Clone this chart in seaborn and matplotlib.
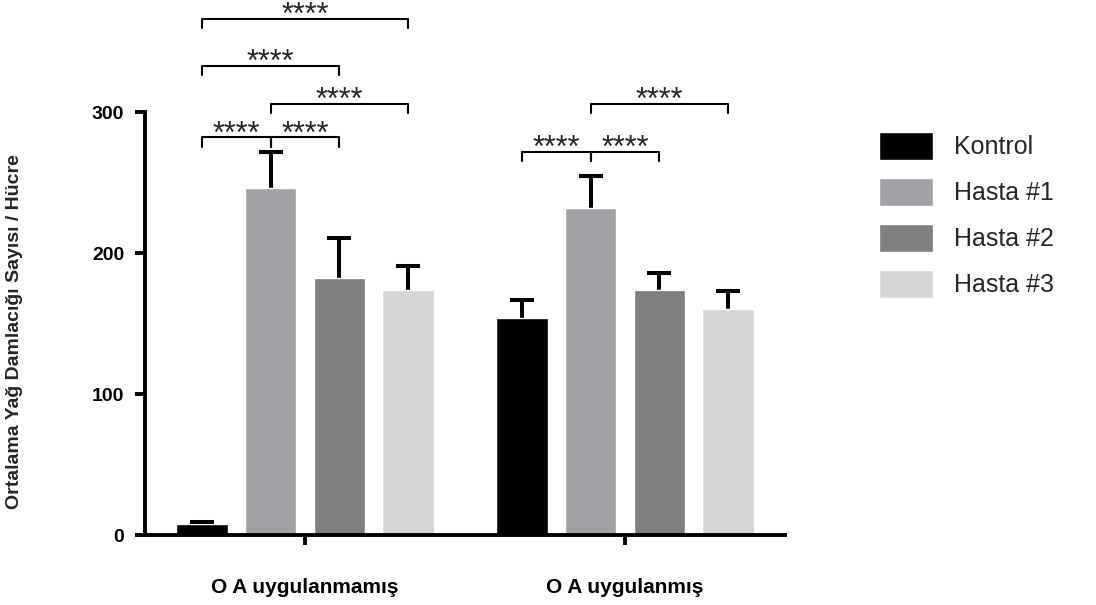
import numpy as np
import pandas as pd
import matplotlib
matplotlib.use("Agg")
import matplotlib.pyplot as plt
import seaborn as sns

# values
groups = ["O A uygulanmamış", "O A uygulanmış"]
hastalar = ["Kontrol", "Hasta #1", "Hasta #2", "Hasta #3"]
means_untreated = [8, 246, 182, 174]
sd_untreated = [1, 26, 29, 17]
means_treated = [154, 232, 174, 160]
sd_treated = [13, 23, 12, 13]
renkler = ["#000000", "#a2a1a6", "#808080", "#d5d5d5"]
yticks = [0, 100, 200, 300]

# significance brackets: (group index, bar i, bar j, height, label)
brackets = [
    (0, 0, 1, 282, "****"),
    (0, 1, 2, 282, "****"),
    (0, 1, 3, 306, "****"),
    (0, 0, 2, 333, "****"),
    (0, 0, 3, 366, "****"),
    (1, 0, 1, 272, "****"),
    (1, 1, 2, 272, "****"),
    (1, 1, 3, 306, "****"),
]

df = pd.DataFrame({
    "grup": np.repeat(groups, len(hastalar)),
    "hasta": hastalar * len(groups),
    "ort": means_untreated + means_treated,
    "sd": sd_untreated + sd_treated,
})

sns.set_theme(style="ticks")
plt.rcParams["font.family"] = ["Liberation Sans", "DejaVu Sans"]

fig = plt.figure(figsize=(10.96, 6.05), dpi=100)
ax = fig.add_axes([0.1323, 0.1157, 0.584, 0.699])

sns.barplot(data=df, x="grup", y="ort", hue="hasta", order=groups,
            hue_order=hastalar, palette=renkler, width=0.86, gap=0.25,
            errorbar=None, saturation=1, ax=ax, zorder=2)

# bar centers from the drawn patches (hue-major order), upper error bars only
bars = [p for p in ax.patches if p.get_height() > 0][:len(df)]
centers = {}
for k, p in enumerate(bars):
    h = k // len(groups)
    g = k % len(groups)
    cx = p.get_x() + p.get_width() / 2
    centers[(g, h)] = cx
    row = df[(df.grup == groups[g]) & (df.hasta == hastalar[h])].iloc[0]
    ax.vlines(cx, row.ort - 3, row.ort + row.sd, color="black", lw=2.9,
              zorder=1)
    ax.plot([cx], [row.ort + row.sd], marker="_", color="black",
            markersize=17, mew=2.9, zorder=3)

for g, i, j, yb, lab in brackets:
    x1 = centers[(g, i)]
    x2 = centers[(g, j)]
    ax.plot([x1, x1, x2, x2], [yb - 6.5, yb, yb, yb - 6.5], color="black",
            lw=1.5, clip_on=False)
    ax.text((x1 + x2) / 2, yb - 3.5, lab, ha="center", va="baseline",
            fontsize=22, clip_on=False)

ax.set_xlim(-0.5, 1.5)
ax.set_ylim(0, 300)
ax.set_yticks(yticks)
ax.set_yticklabels([str(t) for t in yticks], fontsize=14, fontweight="bold")
ax.set_xticks([0, 1])
ax.set_xticklabels(groups, fontsize=15, fontweight="bold")
ax.tick_params(axis="both", width=2.8, length=7, colors="black")
ax.tick_params(axis="x", pad=24)
ax.tick_params(axis="y", pad=8)
ax.set_xlabel("")
ax.set_ylabel("Ortalama Yağ Damlacığı Sayısı / Hücre", fontsize=14,
              fontweight="bold")
ax.yaxis.set_label_coords(-0.19, 0.48)
sns.despine(ax=ax)
for s in ["left", "bottom"]:
    ax.spines[s].set_linewidth(2.8)
    ax.spines[s].set_color("black")

handles, labels = ax.get_legend_handles_labels()
ax.legend(handles, labels, loc="upper left", bbox_to_anchor=(0.791, 0.803),
          bbox_transform=fig.transFigure, frameon=False, fontsize=18,
          handlelength=2.15, handleheight=1.35, handletextpad=0.85,
          labelspacing=0.72, borderpad=0)

fig.savefig("out.png", dpi=100)
